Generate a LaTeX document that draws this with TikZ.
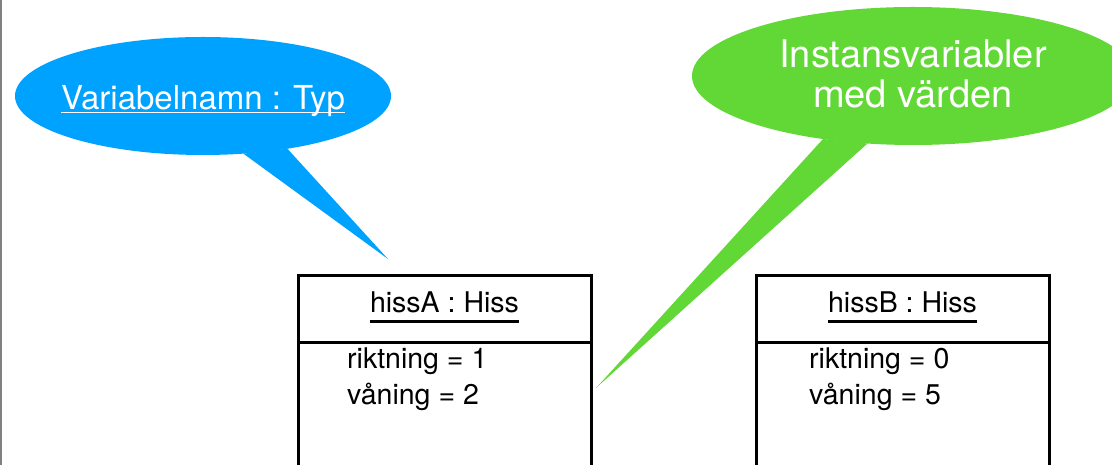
\documentclass[tikz,border=0pt]{standalone}
\usepackage{fontspec}
\setmainfont{TeX Gyre Heros}
\usepackage{tikz}
\usetikzlibrary{shapes.geometric}
\definecolor{bubbleblue}{RGB}{0,162,255}
\definecolor{bubblegreen}{RGB}{97,216,54}

\tikzset{
  bubble/.style={ellipse, inner sep=0pt, outer sep=0pt},
  bubbletext/.style={inner sep=0pt, anchor=base, text=white},
  objbox/.style={draw=black, line width=3pt, rectangle, inner sep=0pt, outer sep=0pt,
    minimum width=293pt, minimum height=240pt, anchor=north},
  boxtitle/.style={inner sep=0pt, anchor=base, font=\fontsize{28.5}{34}\selectfont},
  attr/.style={inner sep=0pt, anchor=base west, font=\fontsize{28.5}{34}\selectfont},
  rule/.style={line width=3pt},
}

\begin{document}
\begin{tikzpicture}[x=1pt, y=1pt]
  \useasboundingbox (0,0) rectangle (1112,465);
  \clip (0,0) rectangle (1112,465);
  \fill[white] (0,0) rectangle (1112,465);
  \draw[gray, line width=2pt] (1,0) -- (1,465);

  % blue bubble
  \node[bubble, fill=bubbleblue, minimum width=376pt, minimum height=118pt] (typbubble) at (203,369) {};
  \coordinate (typtip) at (388,206);
  \fill[bubbleblue] (typbubble.-55) -- (typtip) -- (typbubble.-32) -- cycle;
  \node[bubbletext, font=\fontsize{33}{38}\selectfont] (typlabel) at (203,355) {Variabelnamn : Typ};
  \draw[white, line width=1.5pt] ([yshift=-2.5pt]typlabel.base west) -- ([yshift=-2.5pt]typlabel.base east);

  % green bubble
  \node[bubble, fill=bubblegreen, minimum width=442pt, minimum height=138pt] (varbubble) at (913,389) {};
  \coordinate (vartip) at (596,77);
  \fill[bubblegreen] (varbubble.-145) -- (vartip) -- (varbubble.-124) -- cycle;
  \node[bubbletext, font=\fontsize{38}{40}\selectfont] (varlabel1) at (913,397) {Instansvariabler};
  \node[bubbletext, font=\fontsize{38}{40}\selectfont] (varlabel2) at (913,357) {med värden};

  % hissA
  \node[objbox] (hissA) at (444.5,189) {};
  \draw[rule] ([yshift=-67pt]hissA.north west) -- ([yshift=-67pt]hissA.north east);
  \node[boxtitle] (hissAname) at (444.5,152) {hissA : Hiss};
  \draw[rule] ([yshift=-9pt]hissAname.base west) -- ([yshift=-9pt]hissAname.base east);
  \node[attr] (hissAdir) at (347,96) {riktning = 1};
  \node[attr] (hissAfloor) at (347,60) {våning = 2};

  % hissB
  \node[objbox] (hissB) at (902.5,189) {};
  \draw[rule] ([yshift=-67pt]hissB.north west) -- ([yshift=-67pt]hissB.north east);
  \node[boxtitle] (hissBname) at (902.5,152) {hissB : Hiss};
  \draw[rule] ([yshift=-9pt]hissBname.base west) -- ([yshift=-9pt]hissBname.base east);
  \node[attr] (hissBdir) at (809,96) {riktning = 0};
  \node[attr] (hissBfloor) at (809,60) {våning = 5};
\end{tikzpicture}
\end{document}
